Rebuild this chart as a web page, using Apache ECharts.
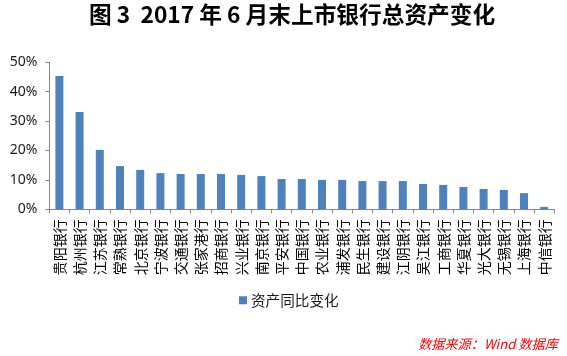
<!DOCTYPE html>
<html>
<head>
<meta charset="utf-8">
<script src="https://cdn.jsdelivr.net/npm/echarts@6/dist/echarts.min.js"></script>
<style>
html,body{margin:0;padding:0;background:#fff;}
#chart{width:567px;height:356px;}
</style>
</head>
<body>
<div id="chart"></div>
<script>
const titleText = '图 3  2017 年 6 月末上市银行总资产变化';
const sourceText = '数据来源：Wind 数据库';
const seriesName = '资产同比变化';
const categories = ['贵阳银行','杭州银行','江苏银行','常熟银行','北京银行','宁波银行','交通银行','张家港行','招商银行','兴业银行','南京银行','平安银行','中国银行','农业银行','浦发银行','民生银行','建设银行','江阴银行','吴江银行','工商银行','华夏银行','光大银行','无锡银行','上海银行','中信银行'];
const values = [45.3, 33.1, 20.2, 14.7, 13.4, 12.3, 12.0, 12.0, 12.0, 11.7, 11.3, 10.3, 10.3, 10.0, 10.0, 9.6, 9.6, 9.6, 8.6, 8.3, 7.6, 6.9, 6.6, 5.5, 0.8];
const yTicks = [0, 10, 20, 30, 40, 50];

const chart = echarts.init(document.getElementById('chart'), null, {renderer: 'canvas'});
const axisColor = '#868686';
chart.setOption({
  animation: false,
  backgroundColor: '#ffffff',
  title: {
    text: titleText,
    left: 89,
    top: 3,
    padding: 0,
    textStyle: {fontFamily: 'Noto Sans CJK SC', fontSize: 22.7, fontWeight: 'bold', color: '#000'}
  },
  grid: {left: 49.3, right: 12.7, top: 62.3, bottom: 146.7, containLabel: false},
  legend: {
    data: [seriesName],
    left: 239,
    top: 293,
    padding: 0,
    itemWidth: 8,
    itemHeight: 8,
    icon: 'rect',
    textStyle: {fontFamily: 'Noto Sans CJK SC', fontSize: 14.6, color: '#1a1a1a', padding: [0,0,0,-1]}
  },
  xAxis: {
    type: 'category',
    data: categories,
    axisLine: {lineStyle: {color: axisColor, width: 1}},
    axisTick: {show: true, length: 4, lineStyle: {color: axisColor}},
    axisLabel: {rotate: 90, margin: 10, interval: 0, fontFamily: 'Noto Sans CJK SC', fontSize: 14, color: '#000'}
  },
  yAxis: {
    type: 'value',
    min: yTicks[0],
    max: yTicks[yTicks.length - 1],
    interval: 10,
    splitLine: {show: false},
    axisLine: {show: true, lineStyle: {color: axisColor, width: 1}},
    axisTick: {show: true, length: 4, lineStyle: {color: axisColor}},
    axisLabel: {formatter: '{value}%', margin: 12, fontFamily: 'Noto Sans', fontSize: 14, color: '#1a1a1a'}
  },
  series: [{
    name: seriesName,
    type: 'bar',
    data: values,
    barWidth: 8,
    itemStyle: {color: '#4f81bd'}
  }],
  graphic: [{
    type: 'text',
    left: 418,
    top: 337,
    style: {text: sourceText, fill: '#ff0000', font: 'italic 13.2px "Noto Sans CJK SC"'}
  }]
});
</script>
</body>
</html>
